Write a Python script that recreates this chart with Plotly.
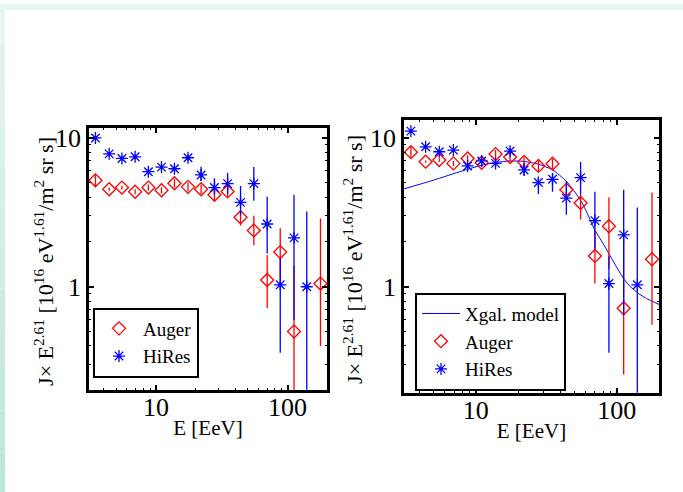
import math
import plotly.graph_objects as go

# ---------------- data ----------------
E_hires = [3.46, 4.4, 5.5, 6.93, 8.74, 11.0, 13.8, 17.5, 22.0, 27.8, 35.0, 43.9, 55.4, 70.0, 88.0, 112, 140]
E_auger = [3.46, 4.4, 5.5, 6.93, 8.74, 11.0, 13.8, 17.5, 22.0, 27.8, 35.0, 43.9, 55.4, 70.0, 88.0, 112, 178]

# left panel
L_hires = [10.0, 7.82, 7.28, 7.47, 5.93, 6.37, 6.21, 7.36, 5.64, 4.64, 4.93, 3.69, 4.93, 2.64, 1.03, 2.13, 1.0]
L_hires_hi = [10.3, 8.05, 7.5, 7.7, 6.2, 6.65, 6.5, 7.7, 6.41, 5.35, 5.84, 4.76, 6.37, 4.03, 1.55, 4.15, 3.2]
L_hires_lo = [9.7, 7.6, 7.05, 7.25, 5.68, 6.1, 5.95, 7.02, 5.14, 4.15, 4.18, 3.0, 3.78, 1.67, 0.36, 0.6, 0.1]
L_auger = [5.19, 4.52, 4.64, 4.35, 4.64, 4.45, 4.96, 4.69, 4.52, 4.15, 4.37, 2.93, 2.39, 1.11, 1.71, 0.5, 1.05]
L_auger_hi = [5.65, 4.62, 4.78, 4.52, 4.87, 4.67, 5.3, 5.02, 4.84, 4.48, 4.72, 3.28, 3.0, 1.63, 2.47, 1.39, 2.88]
L_auger_lo = [4.75, 4.42, 4.5, 4.18, 4.41, 4.23, 4.62, 4.36, 4.2, 3.82, 4.02, 2.58, 1.9, 0.717, 1.14, 0.1, 0.398]

# right panel
R_hires = [11.1, 8.71, 8.07, 8.28, 6.48, 7.0, 6.74, 8.15, 6.09, 5.01, 5.27, 3.94, 5.41, 2.78, 1.05, 2.23, 1.03]
R_hires_hi = [11.4, 8.95, 8.3, 8.5, 6.78, 7.3, 7.05, 8.55, 6.8, 5.4, 5.78, 5.14, 6.89, 4.35, 1.6, 4.48, 3.41]
R_hires_lo = [10.8, 8.47, 7.85, 8.05, 6.2, 6.7, 6.45, 7.75, 5.6, 4.19, 4.35, 3.04, 4.19, 1.8, 0.36, 0.647, 0.1]
R_auger = [8.02, 6.92, 7.1, 6.74, 7.28, 6.81, 7.79, 7.44, 6.89, 6.48, 6.71, 4.48, 3.65, 1.61, 2.55, 0.717, 1.53]
R_auger_hi = [8.7, 7.05, 7.3, 7.0, 7.65, 7.15, 8.3, 7.95, 7.4, 7.0, 7.25, 5.0, 4.19, 2.39, 3.98, 2.05, 4.29]
R_auger_lo = [7.35, 6.8, 6.9, 6.48, 6.9, 6.47, 7.28, 6.93, 6.38, 5.96, 6.17, 3.98, 2.83, 1.05, 1.32, 0.257, 0.555]

# model curve (right panel)
E_model = [3.1, 5, 8, 11, 14, 17.5, 22, 28, 35, 44, 55, 60, 70, 80, 92, 100, 113, 125, 143, 160, 173, 200]
J_model = [4.55, 5.2, 6.0, 6.55, 6.85, 7.0, 6.95, 6.65, 6.1, 5.1, 3.85, 3.3, 2.4, 1.95, 1.55, 1.35, 1.12, 1.0, 0.9, 0.84, 0.81, 0.76]

x_ticks = [10, 100]
x_ticktext = ["10", "100"]
y_ticks = [1, 10]
y_ticktext = ["1", "10"]
x_title = "E [EeV]"
y_title = "J\u00d7 E<sup>2.61</sup> [10<sup>16</sup> eV<sup>1.61</sup>/m<sup>2</sup> sr s]"

RED = "#ff0000"
BLUE = "#0000ff"
FONT = "Liberation Serif, Times New Roman, serif"

def errs(vals, hi, lo):
    return [h - v for v, h in zip(vals, hi)], [v - l for v, l in zip(vals, lo)]

fig = go.Figure()

def add_data(xax, yax, legend, aug, aug_hi, aug_lo, hir, hir_hi, hir_lo):
    up, dn = errs(aug, aug_hi, aug_lo)
    fig.add_trace(go.Scatter(
        x=E_auger, y=aug, mode="markers", name="Auger", xaxis=xax, yaxis=yax, legend=legend,
        marker=dict(symbol="diamond-open", size=10, color=RED, line=dict(color=RED, width=1.3)),
        error_y=dict(type="data", array=up, arrayminus=dn, color=RED, thickness=1.3, width=0),
    ))
    up, dn = errs(hir, hir_hi, hir_lo)
    fig.add_trace(go.Scatter(
        x=E_hires, y=hir, mode="markers", name="HiRes", xaxis=xax, yaxis=yax, legend=legend,
        marker=dict(symbol="asterisk-open", size=10, color=BLUE, line=dict(color=BLUE, width=1.3)),
        error_y=dict(type="data", array=up, arrayminus=dn, color=BLUE, thickness=1.3, width=0),
    ))

add_data("x", "y", "legend", L_auger, L_auger_hi, L_auger_lo, L_hires, L_hires_hi, L_hires_lo)

fig.add_trace(go.Scatter(
    x=E_model, y=J_model, mode="lines", name="Xgal. model", xaxis="x2", yaxis="y2",
    legend="legend2", line=dict(color=BLUE, width=1, shape="spline", smoothing=0.6),
))
add_data("x2", "y2", "legend2", R_auger, R_auger_hi, R_auger_lo, R_hires, R_hires_hi, R_hires_lo)

minor_x = [4, 5, 6, 7, 8, 9, 20, 30, 40, 50, 60, 70, 80, 90]
minor_y = [0.3, 0.4, 0.5, 0.6, 0.7, 0.8, 0.9, 2, 3, 4, 5, 6, 7, 8, 9]

def xaxis(domain, anchor):
    return dict(
        type="log", range=[0.49, 2.3], domain=domain, anchor=anchor,
        tickmode="array", tickvals=x_ticks, ticktext=x_ticktext,
        ticks="inside", ticklen=5, tickwidth=1.5, tickcolor="black",
        showline=True, linewidth=2.5, linecolor="black", mirror="allticks",
        showgrid=False, zeroline=False, ticklabelstandoff=-8,
        tickfont=dict(size=26, family=FONT, color="black"),
        title=dict(text=x_title, font=dict(size=21, family=FONT, color="black"), standoff=0),
        minor=dict(ticks="inside", ticklen=2.5, tickwidth=1, tickcolor="black", tickvals=minor_x),
    )

def yaxis(domain, anchor, rng):
    return dict(
        type="log", range=rng, domain=domain, anchor=anchor,
        tickmode="array", tickvals=y_ticks, ticktext=y_ticktext,
        ticks="inside", ticklen=5, tickwidth=1.5, tickcolor="black",
        showline=True, linewidth=2.5, linecolor="black", mirror="allticks",
        showgrid=False, zeroline=False,
        tickfont=dict(size=26, family=FONT, color="black"),
        minor=dict(ticks="inside", ticklen=2.5, tickwidth=1, tickcolor="black", tickvals=minor_y),
    )

W, H = 683, 492
legend_common = dict(
    bgcolor="white", bordercolor="black", borderwidth=2,
    font=dict(size=19, family=FONT, color="black"),
    xanchor="left", yanchor="top", tracegroupgap=0, itemwidth=38,
)

# mint page border
shapes = []
n = 12
for i in range(n):
    f = i / (n - 1)
    r = int(0xe6 + (0xbd - 0xe6) * f)
    g = int(0xf6 + (0xe8 - 0xf6) * f)
    b = int(0xf0 + (0xd7 - 0xf0) * f)
    shapes.append(dict(type="rect", xref="paper", yref="paper", x0=0, x1=5 / W,
                       y0=1 - (i + 1) / n, y1=1 - i / n, line=dict(width=0),
                       fillcolor=f"rgb({r},{g},{b})", layer="below"))
shapes.append(dict(type="rect", xref="paper", yref="paper", x0=0, x1=1, y0=1 - 6 / H, y1=1,
                   line=dict(width=0), fillcolor="#e6f6f0", layer="below"))

annotations = [
    dict(text=y_title, xref="paper", yref="paper", x=44 / W, y=(H - 260) / H,
         xanchor="center", yanchor="middle", textangle=-90, showarrow=False,
         font=dict(size=22, family=FONT, color="black")),
    dict(text=y_title, xref="paper", yref="paper", x=353 / W, y=(H - 258) / H,
         xanchor="center", yanchor="middle", textangle=-90, showarrow=False,
         font=dict(size=22, family=FONT, color="black")),
]

fig.update_layout(
    width=W, height=H, margin=dict(l=0, r=0, t=0, b=0),
    paper_bgcolor="white", plot_bgcolor="white",
    font=dict(family=FONT, color="black"),
    xaxis=xaxis([89 / W, 327 / W], "y"),
    yaxis=yaxis([(H - 389) / H, (H - 125) / H], "x", [-0.693, 1.067]),
    xaxis2=xaxis([404 / W, 659 / W], "y2"),
    yaxis2=yaxis([(H - 392) / H, (H - 117) / H], "x2", [-0.713, 1.12]),
    legend=dict(x=93 / W, y=(H - 306) / H, **legend_common),
    legend2=dict(x=415 / W, y=(H - 291) / H, **legend_common),
    shapes=shapes,
    annotations=annotations,
    showlegend=True,
)

fig.write_html("out.html", config={"displayModeBar": False},
               post_script="document.body.style.margin='0';document.body.style.padding='0';")
